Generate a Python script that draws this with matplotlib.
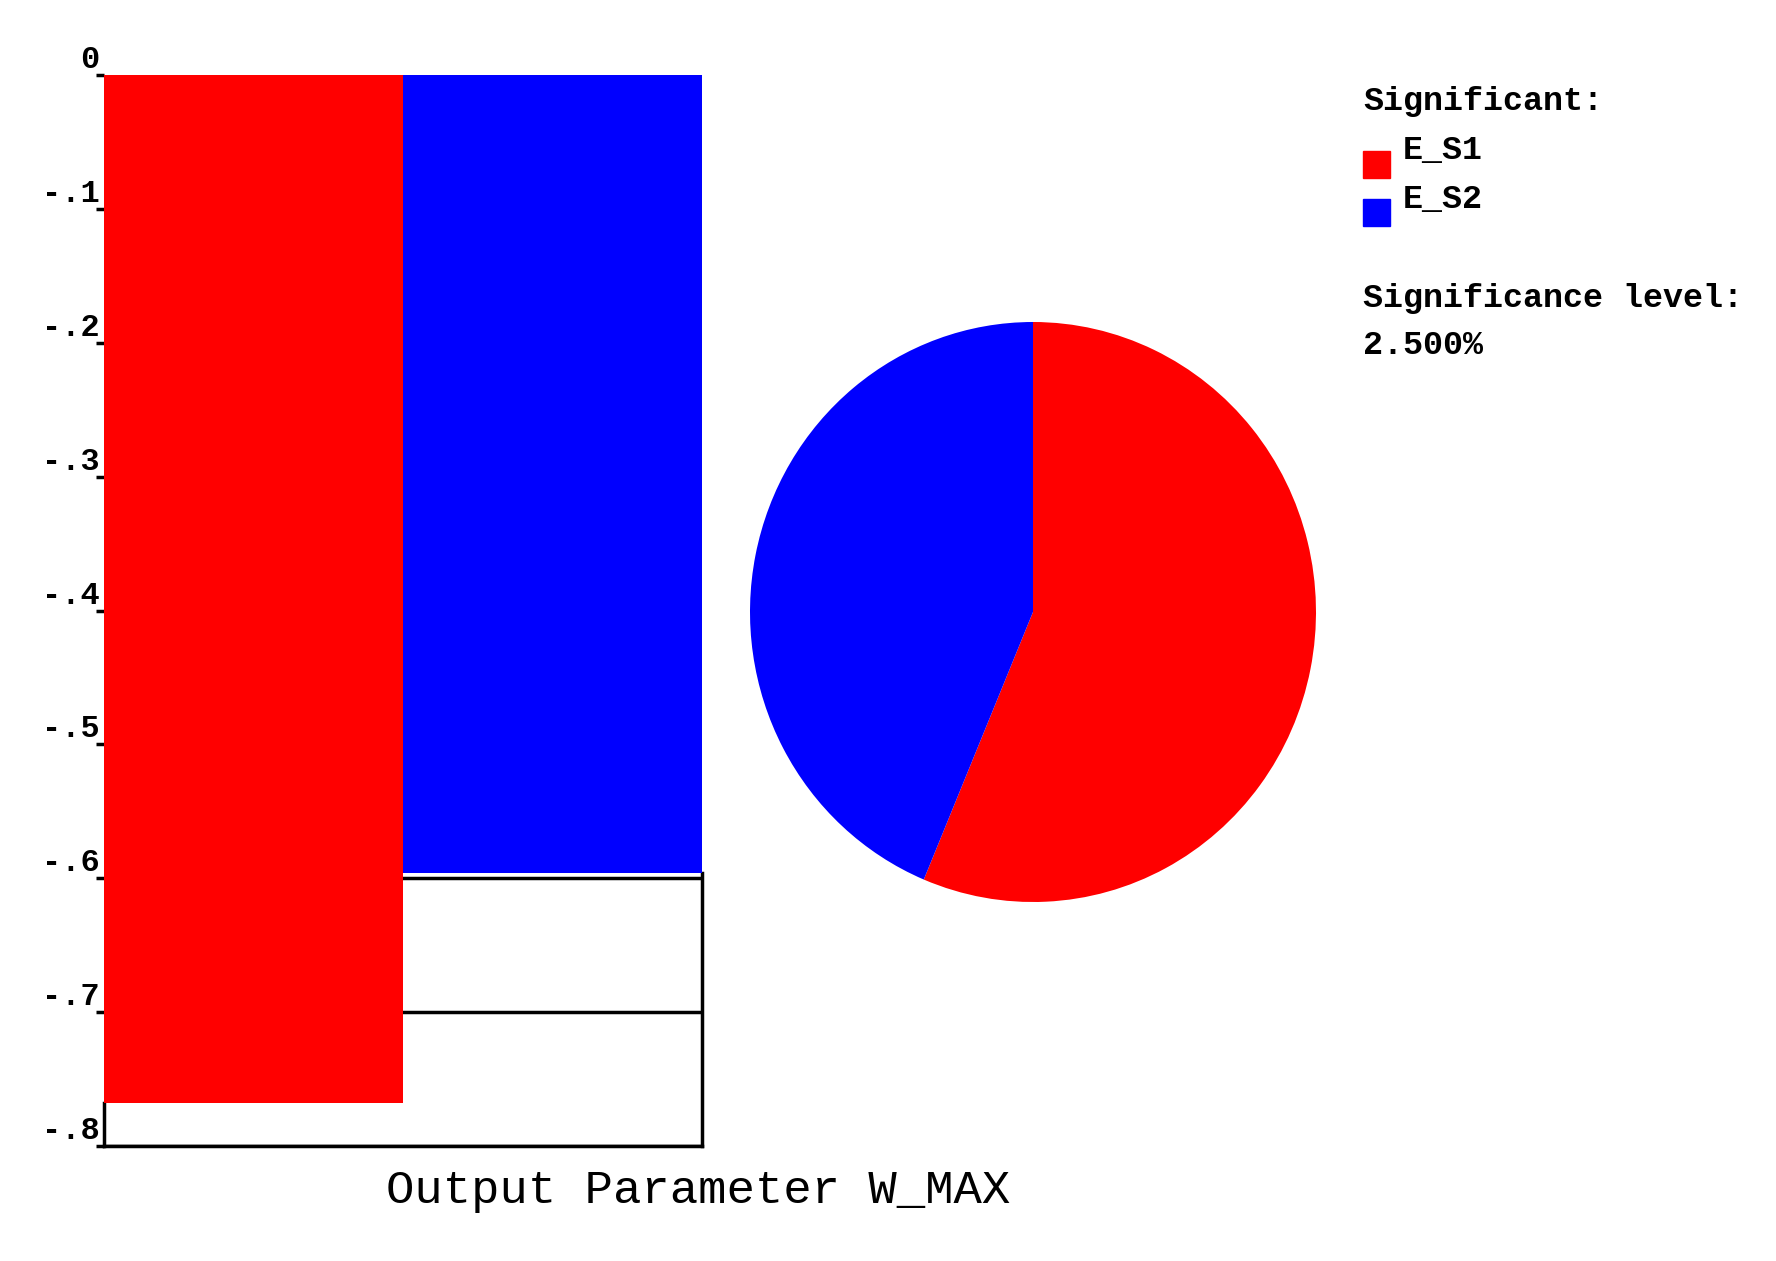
import matplotlib
matplotlib.use("Agg")
import matplotlib.pyplot as plt
from matplotlib.patches import Rectangle

# data
names = ["E_S1", "E_S2"]
values = [-0.768, -0.596]
colors = ["#ff0000", "#0000ff"]
yticks = [0, -0.1, -0.2, -0.3, -0.4, -0.5, -0.6, -0.7, -0.8]
ytick_labels = ["0", "-.1", "-.2", "-.3", "-.4", "-.5", "-.6", "-.7", "-.8"]
level = "2.500%"
title = "Output Parameter W_MAX"

W, H = 1776, 1261
fig = plt.figure(figsize=(W / 100, H / 100), dpi=100)
fig.patch.set_facecolor("white")
mono = "Liberation Mono"
lw = 2.5

# bar chart
ax = fig.add_axes([104 / W, 1 - 1146 / H, 598 / W, 1071 / H])
ax.bar(range(len(values)), values, width=1.0, color=colors, zorder=3, linewidth=0)
ax.set_xlim(-0.5, len(values) - 0.5)
ax.set_ylim(-0.8, 0)
ax.set_xticks([])
ax.set_yticks(yticks)
ax.set_yticklabels(ytick_labels, fontfamily=mono, fontweight="bold", fontsize=23)
for lab in ax.get_yticklabels():
    lab.set_va("bottom")
ax.tick_params(axis="y", direction="out", length=6, width=lw, pad=-3)
ax.grid(axis="y", color="black", linewidth=lw, zorder=1)
ax.set_axisbelow(True)
ax.spines["top"].set_visible(False)
for s in ["left", "right", "bottom"]:
    ax.spines[s].set_linewidth(lw)
# the bars hide the frame where they reach the edges
ax.spines["left"].set_bounds(-0.8, values[0])
ax.spines["right"].set_bounds(-0.8, values[-1])

# pie chart
pax = fig.add_axes([(1033 - 283) / W, 1 - (612 + 290) / H, 566 / W, 580 / H])
pax.pie([abs(v) for v in values], colors=colors, startangle=90, counterclock=False,
        wedgeprops=dict(linewidth=0))
pax.set_aspect("auto")
pax.set_xlim(-1, 1)
pax.set_ylim(-1, 1)
pax.axis("off")

# legend block
fig.text(1363 / W, 1 - 110 / H, "Significant:", fontfamily=mono, fontweight="bold",
         fontsize=24, va="baseline")
sq_top = [151, 199]
txt_base = [159, 208]
for name, c, t, b in zip(names, colors, sq_top, txt_base):
    fig.patches.append(Rectangle((1363 / W, 1 - (t + 27) / H), 27 / W, 27 / H,
                                 transform=fig.transFigure, color=c))
    fig.text(1403 / W, 1 - b / H, name, fontfamily=mono, fontweight="bold",
             fontsize=24, va="baseline")
fig.text(1363 / W, 1 - 307 / H, "Significance level:", fontfamily=mono,
         fontweight="bold", fontsize=24, va="baseline")
fig.text(1363 / W, 1 - 354 / H, level, fontfamily=mono, fontweight="bold",
         fontsize=24, va="baseline")

fig.text(698 / W, 1 - 1203 / H, title, fontfamily=mono, fontsize=34,
         ha="center", va="baseline")

fig.savefig("out.png", dpi=100)
